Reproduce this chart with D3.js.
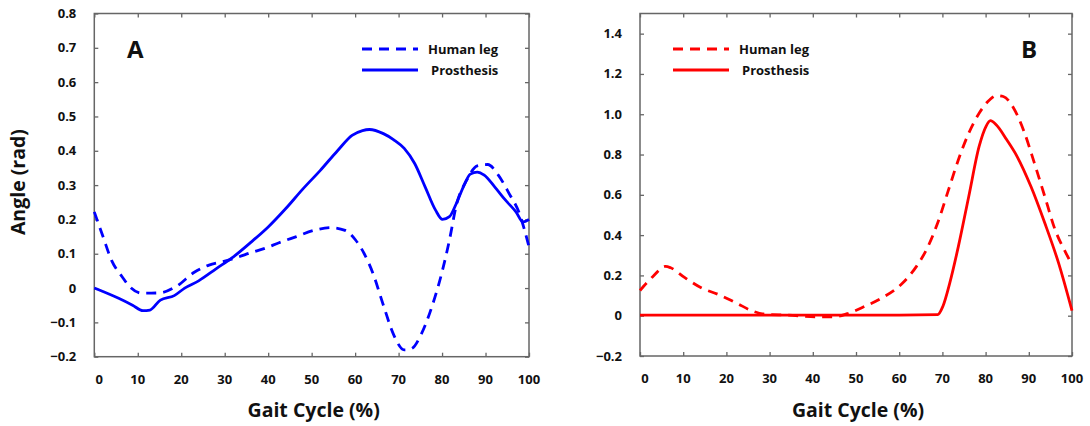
<!DOCTYPE html>
<html><head><meta charset="utf-8">
<script src="https://cdn.jsdelivr.net/npm/d3@7/dist/d3.min.js"></script>
<style>
html,body{margin:0;padding:0;background:#fff;}
text{font-family:"Open Sans","Noto Sans",sans-serif;font-weight:bold;fill:#111;}
</style></head>
<body>
<svg id="chart" width="1090" height="426"></svg>
<script>
// ---------- data ----------
const xTicks = [0,10,20,30,40,50,60,70,80,90,100];
const yTicksA = [-0.2,-0.1,0,0.1,0.2,0.3,0.4,0.5,0.6,0.7,0.8];
const yTicksB = [-0.2,0,0.2,0.4,0.6,0.8,1.0,1.2,1.4];
const seriesNames = ["Human leg","Prosthesis"];

const humanA_x = [0,2,4,6.4,8,11,15,19,23,26.4,29.6,33,36,39.3,42.5,46.5,50.5,54.5,57.7,60.1,62.1,64.1,66.5,68.9,71.3,72.9,75.3,77.7,80.1,81.7,83.3,85.7,88.1,90.5,92.9,95.4,97.8,100];
const humanA_y = [0.222,0.15,0.08,0.033,0.006,-0.015,-0.014,0.006,0.046,0.067,0.077,0.09,0.103,0.116,0.132,0.15,0.168,0.176,0.168,0.14,0.1,0.043,-0.05,-0.137,-0.18,-0.177,-0.132,-0.053,0.052,0.14,0.242,0.315,0.356,0.36,0.33,0.276,0.217,0.12];

const prosA_x = [0,5.6,8.8,11.2,12.8,15.2,18.4,20.8,24,28,32,36,40,44,48,52,56,59.3,61.7,63.3,66.5,68.9,71.3,73.7,76.1,78.5,80.1,81.7,83.3,84.9,86.5,88.1,89.7,92.1,94.6,97,98.6,100];
const prosA_y = [0,-0.03,-0.05,-0.066,-0.064,-0.035,-0.022,0,0.021,0.056,0.091,0.133,0.178,0.231,0.289,0.343,0.401,0.445,0.459,0.462,0.45,0.432,0.407,0.363,0.295,0.227,0.2,0.208,0.247,0.295,0.332,0.338,0.329,0.295,0.256,0.222,0.193,0.2];

const humanB_x = [0,3,5.9,7.1,10.3,14.3,18.3,22.3,26.3,29.5,34.3,40.8,44.8,48,52,56,60.8,64,66.5,68.9,71.3,73.7,76.1,78.5,80.9,82.5,84.1,86.5,88.9,91.3,93.7,96.1,98.6,100];
const humanB_y = [0.125,0.195,0.245,0.238,0.19,0.137,0.104,0.063,0.021,0.006,0.003,-0.006,-0.006,0.01,0.046,0.088,0.162,0.245,0.336,0.46,0.617,0.774,0.906,1.005,1.071,1.093,1.088,1.03,0.914,0.757,0.592,0.426,0.311,0.253];

const prosB_x = [0,20,40,60,68.9,70.1,71.7,73.7,76.1,78.5,80.1,81.1,82.5,84.9,87.3,90.5,93.7,96.9,100];
const prosB_y = [0.003,0.003,0.003,0.003,0.005,0.046,0.162,0.344,0.592,0.84,0.94,0.968,0.947,0.873,0.79,0.641,0.46,0.261,0.025];

// ---------- drawing ----------
const svg = d3.select("#chart");
const zip = (xs, ys) => xs.map((x,i)=>[x, ys[i]]);

function panel(opts){
  const {left,right,top,bottom,yDomain,yTicks,color,human,pros,letter,letterX,legendX,yTitle} = opts;
  const x = d3.scaleLinear().domain([0,100]).range([left,right]);
  const y = d3.scaleLinear().domain(yDomain).range([bottom,top]);
  const g = svg.append("g");
  const axisColor = "#666";
  const fmt = v => Math.abs(v)<1e-9 ? "0" : d3.format(".1f")(v);

  // frame
  g.append("rect").attr("x",left).attr("y",top).attr("width",right-left).attr("height",bottom-top)
    .attr("fill","none").attr("stroke",axisColor).attr("stroke-width",1.5);

  // inward ticks using d3 axes
  const tl = 4;
  const ab = g.append("g").attr("transform",`translate(0,${bottom})`)
    .call(d3.axisTop(x).tickValues(xTicks).tickSize(tl).tickFormat(""));
  const at = g.append("g").attr("transform",`translate(0,${top})`)
    .call(d3.axisBottom(x).tickValues(xTicks).tickSize(tl).tickFormat(""));
  const al = g.append("g").attr("transform",`translate(${left},0)`)
    .call(d3.axisRight(y).tickValues(yTicks).tickSize(tl).tickFormat(""));
  const ar = g.append("g").attr("transform",`translate(${right},0)`)
    .call(d3.axisLeft(y).tickValues(yTicks).tickSize(tl).tickFormat(""));
  [ab,at,al,ar].forEach(a=>{ a.select(".domain").remove(); a.selectAll("line").attr("stroke",axisColor).attr("stroke-width",1.3); });

  // tick labels
  g.selectAll(".xl").data(xTicks).enter().append("text")
    .attr("x",d=>x(d)+(d===0?5:0)).attr("y",bottom+27).attr("text-anchor","middle")
    .attr("font-size",13).text(d=>d);
  g.selectAll(".yl").data(yTicks).enter().append("text")
    .attr("x",left-18).attr("y",d=>y(d)+4.5).attr("text-anchor","end")
    .attr("font-size",13).text(fmt);

  // axis title
  g.append("text").attr("x",(left+right)/2+2).attr("y",417).attr("text-anchor","middle")
    .attr("font-size",19.5).text("Gait Cycle (%)");
  if(yTitle){
    g.append("text").attr("transform",`translate(25,${(top+bottom)/2-3}) rotate(-90)`)
      .attr("text-anchor","middle").attr("font-size",19.5).text(yTitle);
  }

  const line = d3.line().x(d=>x(d[0])).y(d=>y(d[1])).curve(d3.curveMonotoneX);
  g.append("path").datum(pros).attr("d",line).attr("fill","none").attr("stroke",color).attr("stroke-width",2.8);
  g.append("path").datum(human).attr("d",line).attr("fill","none").attr("stroke",color).attr("stroke-width",2.8)
    .attr("stroke-dasharray","10,7");

  // panel letter
  g.append("text").attr("x",letterX).attr("y",58).attr("font-size",24).text(letter);

  // legend
  const ly = [49,70];
  g.append("line").attr("x1",legendX).attr("x2",legendX+56).attr("y1",ly[0]).attr("y2",ly[0])
    .attr("stroke",color).attr("stroke-width",2.8).attr("stroke-dasharray","10,7");
  g.append("line").attr("x1",legendX).attr("x2",legendX+56).attr("y1",ly[1]).attr("y2",ly[1])
    .attr("stroke",color).attr("stroke-width",2.8);
  g.append("text").attr("x",legendX+66).attr("y",ly[0]+5).attr("font-size",13).text(seriesNames[0]);
  g.append("text").attr("x",legendX+69).attr("y",ly[1]+5).attr("font-size",13).text(seriesNames[1]);
}

panel({left:94.3,right:529,top:13.5,bottom:356.7,yDomain:[-0.2,0.8],yTicks:yTicksA,color:"#0000ff",
  human:zip(humanA_x,humanA_y),pros:zip(prosA_x,prosA_y),letter:"A",letterX:127,legendX:362,yTitle:"Angle (rad)"});
panel({left:640,right:1072,top:13.5,bottom:356,yDomain:[-0.2,1.5],yTicks:yTicksB,color:"#ff0000",
  human:zip(humanB_x,humanB_y),pros:zip(prosB_x,prosB_y),letter:"B",letterX:1021,legendX:673,yTitle:null});
</script>
</body></html>
